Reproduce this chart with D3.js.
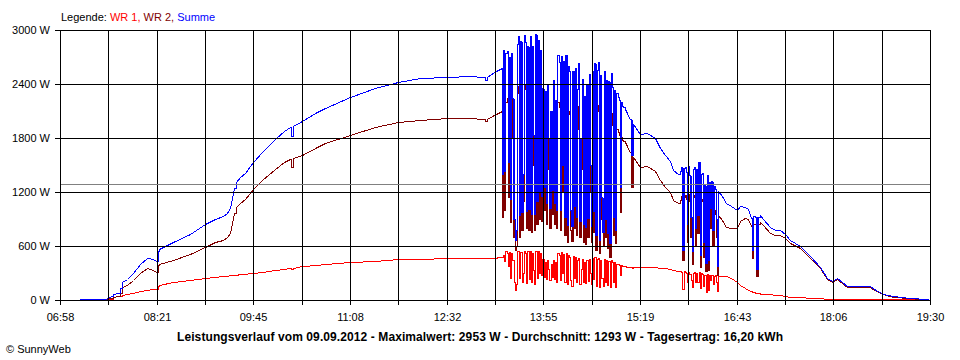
<!DOCTYPE html>
<html><head><meta charset="utf-8">
<script src="https://cdn.jsdelivr.net/npm/d3@7"></script>
<style>
html,body{margin:0;padding:0;background:#fff;}
svg{display:block;}
text{font-family:"Liberation Sans",Arial,sans-serif;}
</style></head><body>
<svg id="chart" width="960" height="360"></svg>
<script>
// ---------------- data ----------------
const times = [
"07:14","07:25","07:33","07:38","07:42","07:44","07:48","07:50","07:52","07:56",
"08:01","08:07","08:13","08:18","08:21","08:23","08:24","08:36","08:50","09:03",
"09:12","09:19","09:22","09:25","09:28","09:30","09:34","09:38","09:42","09:45",
"09:53","10:04","10:12","10:17","10:18","10:19","10:27","10:40","10:47","11:09",
"11:30","11:50","12:09","12:33","12:52","13:04","13:05","13:07","13:13","13:18",
"13:19",
"13:20","13:21","13:22","13:23","13:24","13:25","13:26","13:27","13:28","13:29",
"13:30","13:31","13:32","13:33","13:34","13:35","13:36","13:37","13:38","13:39",
"13:40","13:41","13:42","13:43","13:44","13:45","13:46","13:47","13:48","13:49",
"13:50","13:51","13:52","13:53","13:54","13:55","13:56","13:57","13:58","13:59",
"14:00","14:01","14:02","14:03","14:04","14:05","14:06","14:07","14:08","14:09",
"14:10","14:11","14:12","14:13","14:14","14:15","14:16","14:17","14:18","14:19",
"14:20","14:21","14:22","14:23","14:24","14:25","14:26","14:27","14:28","14:29",
"14:30","14:31","14:32","14:33","14:34","14:35","14:36","14:37","14:38","14:39",
"14:40","14:41","14:42","14:43","14:44","14:45","14:46","14:47","14:48","14:49",
"14:50","14:51","14:52","14:53","14:54","14:55","14:56","14:57","14:58","14:59",
"15:00","15:01","15:02","15:03","15:04","15:05","15:06","15:07","15:08",
"15:11","15:12","15:13",
"15:19","15:25","15:32","15:37","15:41","15:45","15:48","15:52","15:54","15:55",
"15:56","15:57","15:58","15:59","16:00","16:01","16:02","16:03","16:04","16:05",
"16:06","16:07","16:08","16:09","16:10","16:11","16:12","16:13","16:14","16:15",
"16:16","16:17","16:18","16:19","16:20","16:21","16:22","16:23","16:24","16:25",
"16:26","16:27",
"16:30","16:34","16:38","16:43","16:46","16:50","16:53","16:55","16:56","16:57",
"16:59","17:00","17:01","17:03","17:06","17:12","17:16","17:20","17:25","17:29",
"17:38","17:46","17:55","18:01","18:05","18:10","18:18","18:38","18:42","18:49",
"18:58","19:13","19:27","19:30"
];
const wr1 = [
null,null,null,3,15,30,40,50,56,65,
78,95,111,118,122,160,167,200,222,248,
260,270,272,275,280,283,288,293,300,303,
315,330,345,352,340,355,375,390,398,418,
437,452,458,463,468,470,465,470,472,475,
478,
480,500,430,540,520,380,530,250,520,450,
200,111,180,540,550,250,530,200,300,550,
520,190,540,230,545,200,520,330,180,550,
250,540,300,520,280,460,260,420,230,440,
350,220,400,260,450,230,420,200,520,500,
220,530,300,510,200,520,180,500,480,220,
160,490,250,480,200,440,470,180,350,460,
200,420,190,450,210,460,300,180,470,230,
480,160,460,470,150,450,250,160,460,200,
440,170,430,150,440,420,200,420,150,400,
395,390,280,385,380,378,375,372,368,
366,360,365,
367,368,362,359,352,340,333,325,322,315,
120,320,315,300,200,310,290,220,150,300,
310,200,300,200,310,130,300,290,160,280,
90,290,110,280,220,280,180,270,275,200,
100,267,
265,262,240,204,170,130,110,95,90,85,
80,76,74,72,70,63,56,52,45,37,
30,19,17,15,14,13,12,11,11,9,
8,6,3,0
];
const wr2 = [
8,10,10,9,25,37,40,80,144,167,
222,300,355,333,315,389,400,444,510,593,
640,667,700,744,967,1030,1078,1122,1190,1230,
1333,1460,1530,1565,1480,1575,1615,1704,1740,1833,
1917,1975,2005,2019,2026,2011,1985,2011,2056,2093,
2100,
920,2280,1000,2200,2250,1150,2170,870,2230,1800,
700,556,600,2300,2380,700,2350,780,1100,2400,
2350,800,2280,780,2390,760,2300,1500,780,2403,
850,2350,900,2260,880,1900,1000,1900,850,1960,
1450,800,1700,960,1990,850,1800,800,2200,2150,
780,2180,1200,2150,720,2200,650,2100,2070,780,
660,2060,800,2100,720,1900,2160,700,1450,2000,
640,1850,620,1950,700,2050,1200,640,2080,760,
2150,560,2100,2170,520,2050,900,600,2090,700,
2000,580,2000,480,2080,1950,720,1910,630,1900,
1865,1830,980,1815,1780,1762,1740,1718,1700,
1640,1250,1593,
1481,1490,1434,1333,1259,1204,1111,1074,1110,1160,
440,1150,1165,1120,650,1180,1100,700,400,1150,
1170,600,1160,750,1220,370,1100,1120,481,1000,
320,1100,330,1030,800,1040,600,1000,960,700,
280,940,
890,815,800,796,880,907,900,820,470,850,
840,270,845,868,835,750,722,726,685,630,
575,470,352,230,200,228,140,140,110,63,
36,20,5,0
];
const summe = [
8,10,10,12,40,67,80,130,200,232,
300,395,466,451,437,549,567,644,732,841,
900,937,972,1019,1247,1313,1366,1415,1490,1533,
1648,1790,1875,1917,1820,1930,1990,2094,2138,2251,
2354,2427,2463,2482,2494,2481,2450,2481,2528,2568,
2578,
1400,2780,1430,2740,2770,1530,2700,1120,2750,2250,
900,667,780,2840,2930,950,2880,980,1400,2950,
2870,990,2820,1010,2935,960,2820,1830,960,2953,
1100,2890,1200,2780,1160,2360,1260,2320,1080,2400,
1800,1020,2100,1220,2440,1080,2220,1000,2720,2650,
1000,2710,1500,2660,920,2720,830,2600,2550,1000,
820,2550,1050,2580,920,2340,2630,880,1800,2460,
840,2270,810,2400,910,2510,1500,820,2550,990,
2630,720,2560,2640,670,2500,1150,760,2550,900,
2440,750,2430,630,2520,2370,920,2330,780,2300,
2260,2220,1260,2200,2160,2140,2115,2090,2068,
2006,1610,1958,
1848,1858,1796,1692,1611,1544,1444,1399,1432,1475,
560,1470,1480,1420,850,1490,1390,920,550,1450,
1480,800,1460,950,1530,500,1400,1410,641,1280,
410,1390,440,1310,1020,1320,780,1270,1235,900,
380,1207,
1155,1077,1040,1000,1050,1037,1010,915,560,935,
920,346,919,940,905,813,778,778,730,667,
605,489,369,245,214,241,152,151,121,72,
44,26,8,0
];
const yTicks = [0, 600, 1200, 1800, 2400, 3000];
const xTickLabels = ["06:58","08:21","09:45","11:08","12:32","13:55","15:19","16:43","18:06","19:30"];
const averageW = 1293;
const legendParts = [
  {text: "Legende: ", color: "#000000"},
  {text: "WR 1, ", color: "#ff0000"},
  {text: "WR 2, ", color: "#800000"},
  {text: "Summe", color: "#0000ff"}
];
const seriesList = [
  {name: "WR 1", values: wr1, color: "#ff0000"},
  {name: "WR 2", values: wr2, color: "#800000"},
  {name: "Summe", values: summe, color: "#0000ff"}
];
const caption = "Leistungsverlauf vom 09.09.2012 - Maximalwert: 2953 W - Durchschnitt: 1293 W - Tagesertrag: 16,20 kWh";
const copyright = "\u00A9 SunnyWeb";

// ---------------- drawing ----------------
if (times.length !== wr1.length || times.length !== wr2.length || times.length !== summe.length)
  console.error("length mismatch", times.length, wr1.length, wr2.length, summe.length);

const toMin = s => { const p = s.split(":").map(Number); return p[0] * 60 + p[1]; };
const t0 = toMin(xTickLabels[0]), t1 = toMin(xTickLabels[xTickLabels.length - 1]);
const L = 60, R = 930, T = 30, B = 300;
const x = d3.scaleLinear().domain([t0, t1]).rangeRound([L, R]);
const y = d3.scaleLinear().domain([0, 3000]).rangeRound([B, T]);
const nDiv = (xTickLabels.length - 1) * 2;
const gridTimes = d3.range(nDiv + 1).map(i => t0 + i * (t1 - t0) / nDiv);

// curve imitating the pixel plotter: closely spaced samples are drawn as
// vertical pixel columns, wider gaps as straight lines
function curvePixel(context) {
  return {
    areaStart() {}, areaEnd() {},
    lineStart() { this._n = 0; },
    lineEnd() {},
    point(px, py) {
      if (this._n === 0) { context.moveTo(px, py); this._n = 1; }
      else {
        const dx = px - this._x;
        const big = Math.abs(py - this._y) > 30;
        if (dx <= 1) { context.lineTo(px, this._y); context.lineTo(px, py); }
        else if (dx === 2 && big) {
          context.lineTo(px - 1, this._y); context.lineTo(px - 1, py);
          context.lineTo(px, py); context.lineTo(px, this._y); context.lineTo(px, py);
        }
        else if (dx === 2) { context.lineTo(px, this._y); context.lineTo(px, py); }
        else { context.lineTo(px, py); }
      }
      this._x = px; this._y = py;
    }
  };
}

const svg = d3.select("#chart");
svg.append("rect").attr("width", 960).attr("height", 360).attr("fill", "#fff");

// data lines
const gLines = svg.append("g").attr("transform", "translate(0.5,0.5)");
seriesList.forEach(s => {
  const pts = times.map((t, i) => ({t: toMin(t), v: s.values[i]}));
  const line = d3.line().defined(d => d.v != null).x(d => x(d.t)).y(d => y(d.v)).curve(curvePixel);
  gLines.append("path").attr("d", line(pts)).attr("fill", "none")
    .attr("stroke", s.color).attr("stroke-width", 1).attr("shape-rendering", "crispEdges");
});

// grid (drawn over the data as in the original)
const gGrid = svg.append("g").attr("shape-rendering", "crispEdges").attr("stroke", "#000").attr("stroke-width", 1);
gGrid.selectAll("line.v").data(gridTimes).join("line").attr("class", "v")
  .attr("x1", d => x(d) + 0.5).attr("x2", d => x(d) + 0.5).attr("y1", T).attr("y2", B);
gGrid.selectAll("line.h").data(yTicks).join("line").attr("class", "h")
  .attr("x1", L).attr("x2", R + 1).attr("y1", d => y(d) + 0.5).attr("y2", d => y(d) + 0.5);

// average line
svg.append("line").attr("x1", L + 1).attr("x2", R).attr("y1", y(averageW) + 0.5).attr("y2", y(averageW) + 0.5)
  .attr("stroke", "#808080").attr("stroke-width", 1).attr("shape-rendering", "crispEdges");

// axes
const xAxis = d3.axisBottom(x).tickValues(gridTimes).tickSize(5).tickSizeOuter(0).tickPadding(8)
  .tickFormat((d, i) => i % 2 === 0 ? xTickLabels[i / 2] : "");
const gx = svg.append("g").attr("transform", `translate(0,${B})`).call(xAxis);
gx.select(".domain").remove();
gx.selectAll("line").attr("stroke", "#000").attr("shape-rendering", "crispEdges");
gx.selectAll("text").attr("fill", "#000").style("font-size", "11px")
  .style("font-family", '"Liberation Sans", Arial, sans-serif');

const yAxis = d3.axisLeft(y).tickValues(yTicks).tickSize(5).tickSizeOuter(0).tickPadding(5)
  .tickFormat(d => d + " W");
const gy = svg.append("g").attr("transform", `translate(${L},0)`).call(yAxis);
gy.select(".domain").remove();
gy.selectAll("line").attr("stroke", "#000").attr("shape-rendering", "crispEdges");
gy.selectAll("text").attr("fill", "#000").style("font-size", "11px")
  .style("font-family", '"Liberation Sans", Arial, sans-serif');

// legend
const lg = svg.append("text").attr("x", 61).attr("y", 21).style("font-size", "11px");
legendParts.forEach(p => lg.append("tspan").attr("fill", p.color).attr("xml:space", "preserve").text(p.text));

// caption
svg.append("text").attr("x", 480).attr("y", 341).attr("text-anchor", "middle")
  .attr("textLength", 606).attr("lengthAdjust", "spacing")
  .style("font-size", "12px").style("font-weight", "bold").attr("fill", "#000").text(caption);

svg.append("text").attr("x", 6).attr("y", 353).style("font-size", "11px").attr("fill", "#000").text(copyright);
</script>
</body></html>
